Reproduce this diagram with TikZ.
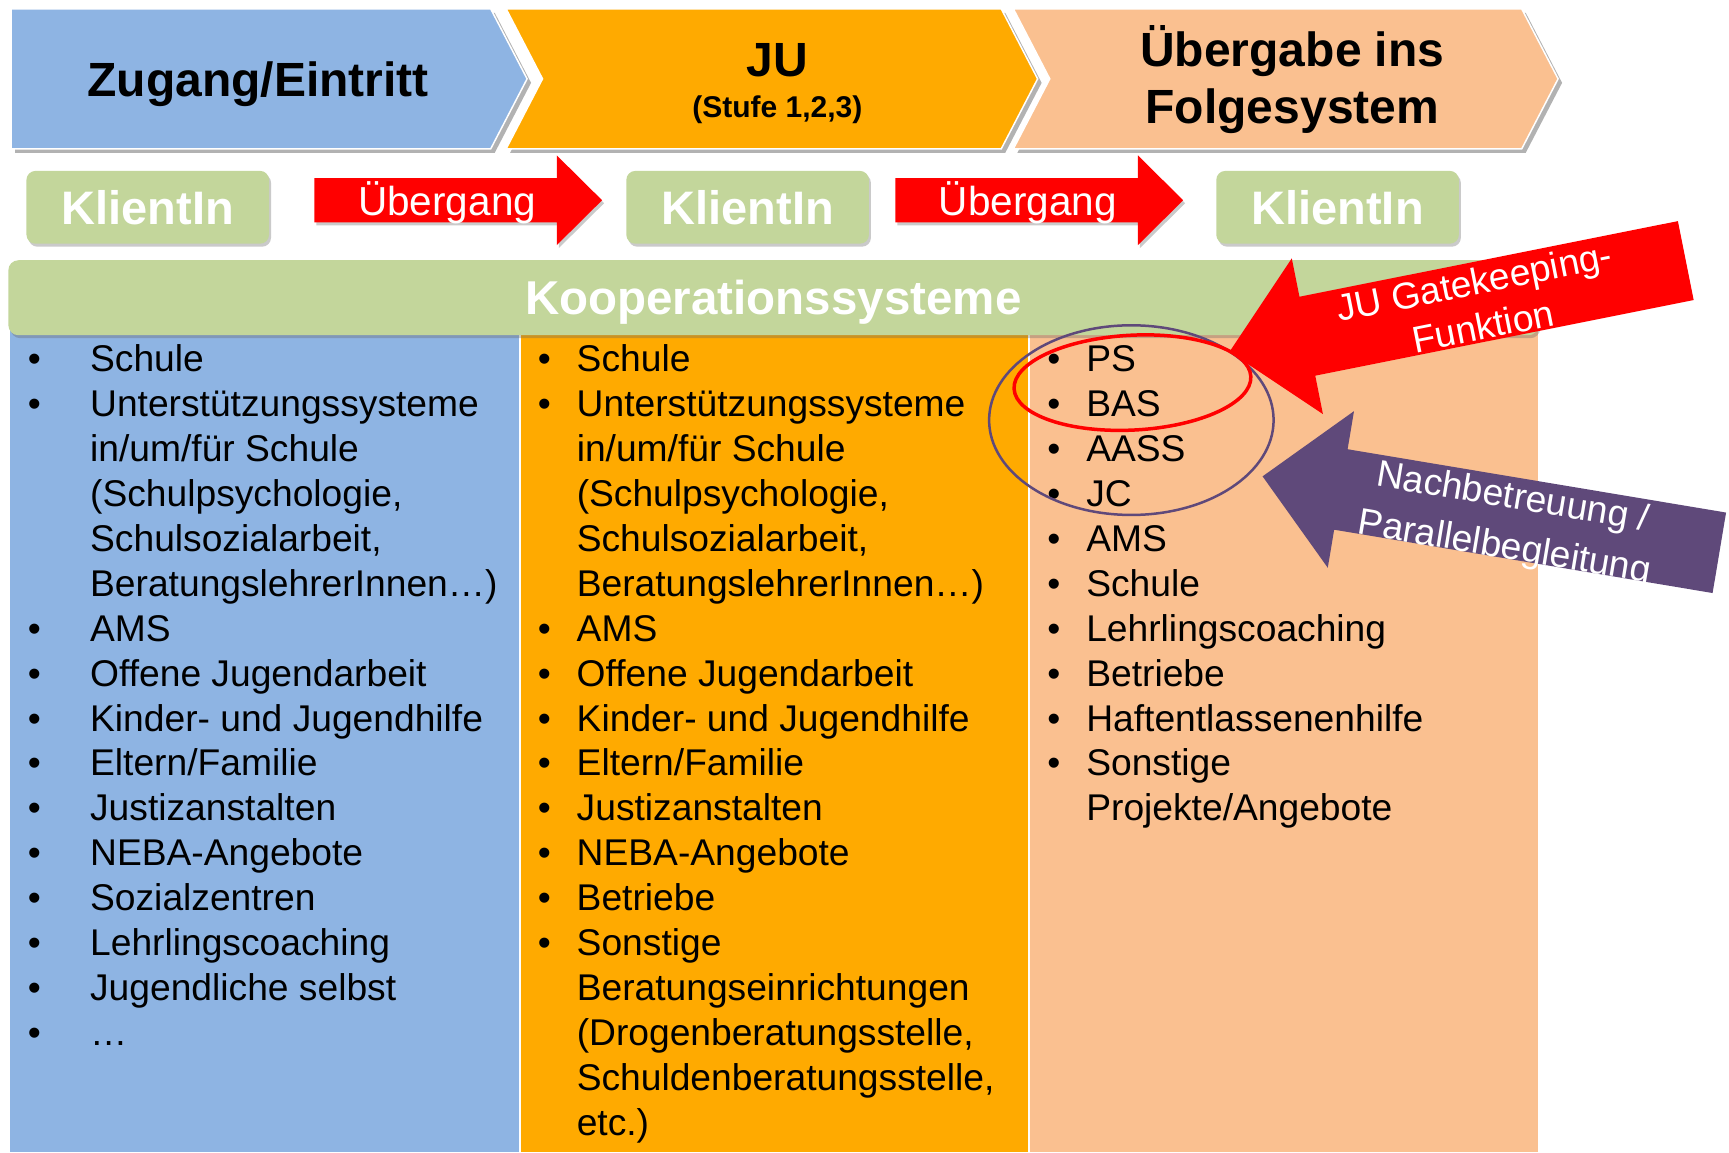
\documentclass[tikz,border=0pt]{standalone}
\usepackage{fontspec}
\setmainfont{Liberation Sans}
\usetikzlibrary{shadows}

\definecolor{zugblau}{HTML}{8EB4E3}
\definecolor{juorange}{HTML}{FFAA00}
\definecolor{pfirsich}{HTML}{FAC090}
\definecolor{gruen}{HTML}{C3D69B}
\definecolor{rot}{HTML}{FF0000}
\definecolor{lila}{HTML}{5F497A}

\newcommand{\bul}[2][39pt]{\strut\makebox[#1][l]{•}#2}
\newcommand{\cnt}[2][39pt]{\strut\hspace*{#1}#2}

\tikzset{
  chev/.style={draw=white, line width=1.5pt,
    drop shadow={shadow xshift=4pt, shadow yshift=-4pt, opacity=0.55, fill=black!55}},
  schatten/.style={drop shadow={shadow xshift=2pt, shadow yshift=-3pt, opacity=0.35, fill=black!60}},
  klient/.style={schatten, fill=gruen, rounded corners=9pt, minimum width=242.6pt,
    minimum height=72.8pt, inner sep=0pt, text=white, text height=34pt, text depth=0pt,
    font=\fontsize{47}{56}\selectfont\bfseries},
  koop/.style={schatten, fill=gruen, rounded corners=10pt, minimum width=1529.9pt,
    minimum height=75pt, inner sep=0pt, text=white, text height=34pt, text depth=0pt,
    font=\fontsize{47.5}{57}\selectfont\bfseries},
  titel/.style={anchor=base, inner sep=0pt, font=\fontsize{48}{57}\selectfont\bfseries},
  uebtext/.style={anchor=base, inner sep=0pt, text=white, font=\fontsize{40.5}{48}\selectfont},
  liste/.style={anchor=north west, inner sep=0pt, align=left, font=\fontsize{37.2}{44.9}\selectfont},
  pfeiltext/.style={text=white, align=center, inner sep=0pt}
}

\begin{document}
\begin{tikzpicture}[x=1.1027pt, y=-1.1027pt]
	\useasboundingbox (0,0) rectangle (1568,1045);
	% Spalten
	\fill[zugblau] (9.5,290) rectangle (470.5,1045);
	\fill[juorange] (472.5,290) rectangle (932.5,1045);
	\fill[pfirsich] (934.5,290) rectangle (1395,1045);
	\node[koop] (koop) at (701.3,270) {Kooperationssysteme};

	% Phasen oben
	\filldraw[chev, fill=pfirsich] (919,8) -- (1380,8) -- (1413,71.5) -- (1380,135) -- (919,135) -- (952,71.5) -- cycle;
	\filldraw[chev, fill=juorange] (459,8) -- (908,8) -- (941,71.5) -- (908,135) -- (459,135) -- (492,71.5) -- cycle;
	\filldraw[chev, fill=zugblau] (10,8) -- (445,8) -- (478,71.5) -- (445,135) -- (10,135) -- cycle;
	\node[titel] (zugang) at (234,87.5) {Zugang/Eintritt};
	\node[titel] (ju) at (705,69.5) {JU};
	\node[titel, font=\fontsize{30}{36}\selectfont\bfseries] (stufe) at (705,107) {(Stufe 1,2,3)};
	\node[titel] (uebA) at (1172,60.5) {Übergabe ins};
	\node[titel] (uebB) at (1172,112) {Folgesystem};

	% KlientIn und Uebergang
	\node[klient] (kA) at (134,188) {KlientIn};
	\node[klient] (kB) at (678,188) {KlientIn};
	\node[klient] (kC) at (1213,188) {KlientIn};
	\fill[rot, schatten] (285,161.5) -- (505,161.5) -- (505,141) -- (546,181.6) -- (505,222.2) -- (505,201.7) -- (285,201.7) -- cycle;
	\fill[rot, schatten] (812,161.5) -- (1032,161.5) -- (1032,141) -- (1073,181.6) -- (1032,222.2) -- (1032,201.7) -- (812,201.7) -- cycle;
	\node[uebtext] (uebgA) at (405.5,195) {Übergang};
	\node[uebtext] (uebgB) at (932,195) {Übergang};

	% Listen
	\node[liste] (listeA) at (25.1,308.5) {%
		\bul[62.3pt]{Schule}\\
		\bul[62.3pt]{Unterstützungssysteme}\\
		\cnt[62.3pt]{in/um/für Schule}\\
		\cnt[62.3pt]{(Schulpsychologie,}\\
		\cnt[62.3pt]{Schulsozialarbeit,}\\
		\cnt[62.3pt]{BeratungslehrerInnen…)}\\
		\bul[62.3pt]{AMS}\\
		\bul[62.3pt]{Offene Jugendarbeit}\\
		\bul[62.3pt]{Kinder- und Jugendhilfe}\\
		\bul[62.3pt]{Eltern/Familie}\\
		\bul[62.3pt]{Justizanstalten}\\
		\bul[62.3pt]{NEBA-Angebote}\\
		\bul[62.3pt]{Sozialzentren}\\
		\bul[62.3pt]{Lehrlingscoaching}\\
		\bul[62.3pt]{Jugendliche selbst}\\
		\bul[62.3pt]{…}};
	\node[liste] (listeB) at (487.5,308.5) {%
		\bul{Schule}\\
		\bul{Unterstützungssysteme}\\
		\cnt{in/um/für Schule}\\
		\cnt{(Schulpsychologie,}\\
		\cnt{Schulsozialarbeit,}\\
		\cnt{BeratungslehrerInnen…)}\\
		\bul{AMS}\\
		\bul{Offene Jugendarbeit}\\
		\bul{Kinder- und Jugendhilfe}\\
		\bul{Eltern/Familie}\\
		\bul{Justizanstalten}\\
		\bul{NEBA-Angebote}\\
		\bul{Betriebe}\\
		\bul{Sonstige}\\
		\cnt{Beratungseinrichtungen}\\
		\cnt{(Drogenberatungsstelle,}\\
		\cnt{Schuldenberatungsstelle,}\\
		\cnt{etc.)}};
	\node[liste] (listeC) at (949.6,308.5) {%
		\bul{PS}\\
		\bul{BAS}\\
		\bul{AASS}\\
		\bul{JC}\\
		\bul{AMS}\\
		\bul{Schule}\\
		\bul{Lehrlingscoaching}\\
		\bul{Betriebe}\\
		\bul{Haftentlassenenhilfe}\\
		\bul{Sonstige}\\
		\cnt{Projekte/Angebote}};

	% Markierungen
	\draw[lila, line width=2.5pt] (1026,381) ellipse [x radius=129, y radius=86];
	\draw[rot, line width=3.5pt, rotate around={3:(1027,347)}] (1027,347) ellipse [x radius=107.5, y radius=43];

	% schraege Pfeile
	\begin{scope}[shift={(1115,319)}, rotate=11.3]
		\fill[rot] (0,0) -- (72,-72) -- (72,-36.5) -- (422,-36.5) -- (422,36.5) -- (72,36.5) -- (72,72) -- cycle;
		\node[pfeiltext, rotate=11.3, font=\fontsize{37.3}{45.5}\selectfont] (gate) at (230,1.6) {JU Gatekeeping-\\Funktion};
	\end{scope}
	\begin{scope}[shift={(1145,432)}, rotate=-9.5]
		\fill[lila] (0,0) -- (72,-72) -- (72,-37) -- (420,-37) -- (420,37) -- (72,37) -- (72,72) -- cycle;
		\node[pfeiltext, rotate=-9.5, font=\fontsize{37.3}{50.3}\selectfont] (nachb) at (227,5.5) {Nachbetreuung /\\Parallelbegleitung};
	\end{scope}
\end{tikzpicture}
\end{document}
